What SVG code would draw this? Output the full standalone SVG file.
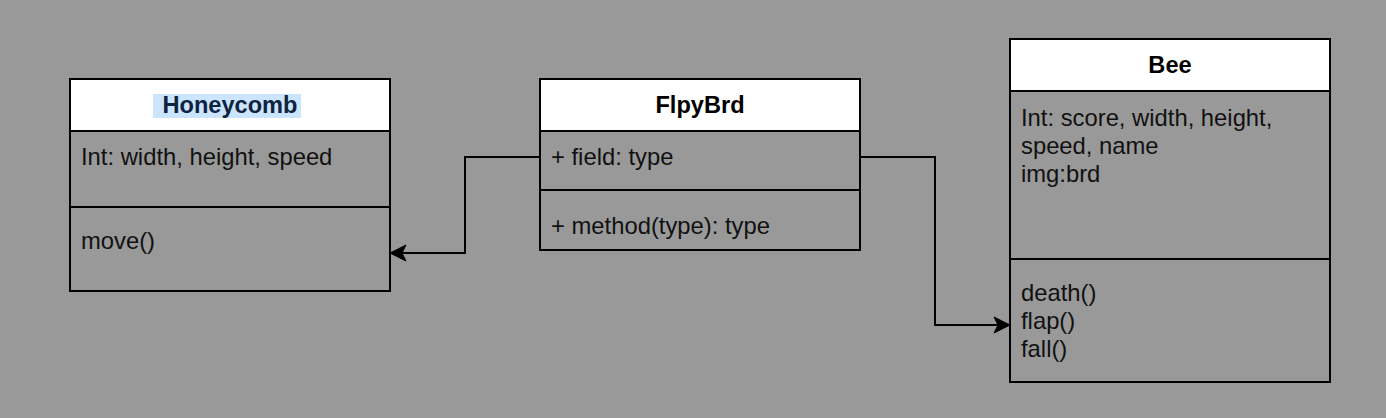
<svg xmlns="http://www.w3.org/2000/svg" width="1386" height="418" viewBox="0 0 1386 418">
<defs>
<style>
.box{fill:none;stroke:#000;stroke-width:2}
.hdr{fill:#fff;stroke:#000;stroke-width:2}
.div{stroke:#000;stroke-width:2}
.t{font-family:"Liberation Sans",Arial,sans-serif;font-size:23.8px;fill:#111}
.h{font-family:"Liberation Sans",Arial,sans-serif;font-size:23.6px;font-weight:bold;fill:#000;text-anchor:middle}
.edge{fill:none;stroke:#000;stroke-width:2}
</style>
<marker id="arr" markerUnits="userSpaceOnUse" markerWidth="20" markerHeight="20" viewBox="0 0 20 20" refX="18" refY="10" orient="auto">
<path d="M2,2 L18,10 L2,18 L6,10 Z" fill="#000" stroke="#000" stroke-width="1"/>
</marker>
</defs>
<rect width="1386" height="418" fill="#999999"/>
<g id="honeycomb">
<rect class="box" x="70" y="79" width="320" height="212"/>
<rect class="hdr" x="70" y="79" width="320" height="52"/>
<line class="div" x1="70" y1="207" x2="390" y2="207"/>
<rect x="153" y="94" width="148" height="24" fill="#cce5ff"/>
<text class="h" x="230" y="113" style="fill:#0f2340">Honeycomb</text>
<text class="t" x="81" y="165">Int: width, height, speed</text>
<text class="t" x="81" y="249">move()</text>
</g>
<g id="flpybrd">
<rect class="box" x="540" y="79" width="320" height="171"/>
<rect class="hdr" x="540" y="79" width="320" height="52"/>
<line class="div" x1="540" y1="190" x2="860" y2="190"/>
<text class="h" x="700" y="113">FlpyBrd</text>
<text class="t" x="551" y="165">+ field: type</text>
<text class="t" x="551" y="234">+ method(type): type</text>
</g>
<g id="bee">
<rect class="box" x="1010" y="39" width="320" height="343"/>
<rect class="hdr" x="1010" y="39" width="320" height="52"/>
<line class="div" x1="1010" y1="259" x2="1330" y2="259"/>
<text class="h" x="1170" y="73">Bee</text>
<text class="t" x="1021" y="126">Int: score, width, height,</text>
<text class="t" x="1021" y="154">speed, name</text>
<text class="t" x="1021" y="182">img:brd</text>
<text class="t" x="1021" y="301">death()</text>
<text class="t" x="1021" y="329">flap()</text>
<text class="t" x="1021" y="357">fall()</text>
</g>
<g id="connectors">
<path class="edge" d="M540,157 H465 V253 H390" marker-end="url(#arr)"/>
<path class="edge" d="M860,157 H935 V325 H1010" marker-end="url(#arr)"/>
</g>
</svg>
